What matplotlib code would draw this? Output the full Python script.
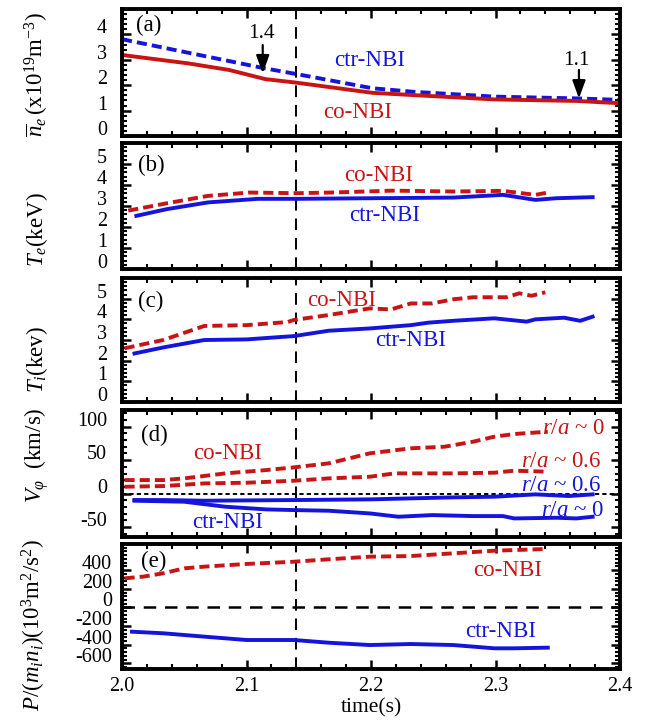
import matplotlib
matplotlib.use('Agg')
import matplotlib.pyplot as plt
from matplotlib.ticker import MultipleLocator
from matplotlib.transforms import ScaledTranslation

plt.rcParams['font.family'] = ['Liberation Serif', 'DejaVu Serif']
plt.rcParams['mathtext.fontset'] = 'custom'
plt.rcParams['mathtext.rm'] = 'Liberation Serif'
plt.rcParams['mathtext.it'] = 'Liberation Serif:italic'
plt.rcParams['mathtext.bf'] = 'Liberation Serif:bold'

RED = '#c81414'
BLUE = '#1414dc'

# ---------------- data ----------------
# (a) line-averaged density
a_ctr_t = [2.0, 2.115, 2.14, 2.201, 2.234, 2.299, 2.365, 2.4]
a_ctr_v = [3.81, 2.66, 2.44, 1.88, 1.74, 1.55, 1.48, 1.42]
a_co_t = [2.0, 2.053, 2.086, 2.115, 2.14, 2.201, 2.234, 2.299, 2.365, 2.4]
a_co_v = [3.19, 2.86, 2.60, 2.24, 2.10, 1.70, 1.61, 1.44, 1.38, 1.29]

# (b) Te
b_co_t = [2.005, 2.036, 2.069, 2.102, 2.140, 2.168, 2.217, 2.266, 2.306, 2.332, 2.342]
b_co_v = [2.78, 3.13, 3.48, 3.64, 3.61, 3.64, 3.73, 3.69, 3.72, 3.53, 3.64]
b_ctr_t = [2.0115, 2.036, 2.069, 2.109, 2.140, 2.201, 2.266, 2.306, 2.332, 2.349, 2.378]
b_ctr_v = [2.53, 2.85, 3.17, 3.34, 3.34, 3.37, 3.40, 3.53, 3.29, 3.37, 3.42]

# (c) Ti
c_co_t = [2.002, 2.033, 2.066, 2.100, 2.133, 2.138, 2.166, 2.199, 2.216, 2.232,
          2.249, 2.266, 2.282, 2.309, 2.319, 2.329, 2.340]
c_co_v = [2.60, 3.00, 3.68, 3.72, 3.87, 3.97, 4.21, 4.53, 4.48, 4.77,
          4.77, 4.97, 5.07, 5.07, 5.26, 5.14, 5.31]
c_ctr_t = [2.010, 2.033, 2.066, 2.100, 2.138, 2.166, 2.199, 2.232, 2.246, 2.266,
           2.299, 2.325, 2.332, 2.355, 2.368, 2.378]
c_ctr_v = [2.35, 2.64, 3.00, 3.03, 3.19, 3.45, 3.56, 3.72, 3.84, 3.93,
           4.05, 3.89, 4.00, 4.08, 3.93, 4.13]

# (d) toroidal rotation
d_co0_t = [2.002, 2.033, 2.050, 2.083, 2.116, 2.138, 2.166, 2.199, 2.216, 2.232,
           2.259, 2.282, 2.299, 2.315, 2.342]
d_co0_v = [20.2, 20.2, 22.7, 30.2, 35.2, 39.2, 45.2, 60.2, 64.1, 67.7,
           70.1, 77.6, 85.1, 89.1, 92.6]
d_co6_t = [2.002, 2.033, 2.066, 2.100, 2.138, 2.166, 2.199, 2.219, 2.232, 2.266,
           2.299, 2.315, 2.342]
d_co6_v = [10.2, 11.2, 15.2, 16.2, 19.2, 22.7, 25.2, 30.2, 30.2, 30.2,
           31.2, 34.2, 32.7]
d_ctr6_t = [2.010, 2.033, 2.066, 2.138, 2.199, 2.232, 2.266, 2.299, 2.332, 2.359, 2.378]
d_ctr6_v = [-9.7, -9.7, -10.7, -9.7, -8.7, -7.2, -5.7, -4.7, -1.2, -3.7, -1.2]
d_ctr0_t = [2.010, 2.050, 2.083, 2.116, 2.138, 2.166, 2.199, 2.222, 2.249, 2.282,
            2.306, 2.315, 2.349, 2.365, 2.378]
d_ctr0_v = [-10.7, -12.2, -19.7, -23.7, -24.7, -25.7, -29.7, -34.7, -32.2, -33.7,
            -33.7, -37.2, -36.2, -37.2, -34.7]

# (e) P/(m_i n_i)
e_co_t = [2.002, 2.017, 2.033, 2.050, 2.066, 2.100, 2.138, 2.166, 2.199, 2.232,
          2.266, 2.299, 2.340]
e_co_v = [312, 330, 366, 419, 437, 466, 490, 516, 544, 551, 580, 608, 626]
e_ctr_t = [2.008, 2.033, 2.066, 2.100, 2.138, 2.166, 2.199, 2.232, 2.266, 2.299,
           2.315, 2.342]
e_ctr_v = [-260, -277, -313, -349, -349, -378, -403, -392, -403, -438, -438, -431]

t_mark = 2.14

a_ticks = [0, 1, 2, 3, 4]
b_ticks = [0, 1, 2, 3, 4, 5]
c_ticks = [0, 1, 2, 3, 4, 5]
d_ticks = [-50, 0, 50, 100]
e_ticks = [-600, -400, -200, 0, 200, 400]
x_ticks = [2.0, 2.1, 2.2, 2.3, 2.4]

# ---------------- figure ----------------
fig = plt.figure(figsize=(6.46, 7.21), dpi=100)
L, W = 0.1889, 0.7709
rects = [(L, 0.8114, W, 0.1761),
         (L, 0.6269, W, 0.1748),
         (L, 0.4424, W, 0.1720),
         (L, 0.2552, W, 0.1761),
         (L, 0.0721, W, 0.1734)]
axes = [fig.add_axes(r) for r in rects]

lw = 2.8
dash = (2.6, 1.3)


def setup(ax, ylim, yticks, yminor, pad):
    ax.set_xlim(2.0, 2.4)
    ax.set_ylim(*ylim)
    ax.xaxis.set_major_locator(MultipleLocator(0.1))
    ax.xaxis.set_minor_locator(MultipleLocator(0.02))
    ax.set_yticks(yticks)
    ax.yaxis.set_minor_locator(MultipleLocator(yminor))
    ax.tick_params(which='both', direction='in', top=True, right=True,
                   labelleft=False)
    ax.tick_params(which='major', length=6.5, width=1.8)
    ax.tick_params(which='minor', length=3.5, width=1.5)
    for s in ax.spines.values():
        s.set_linewidth(2.8)
    off = ScaledTranslation(0, 0.055, fig.dpi_scale_trans)
    for v in yticks:
        ax.text(-pad, v, f"{v:g}", transform=ax.get_yaxis_transform() + off,
                ha='right', va='center', fontsize=14.5)
    ax.axvline(t_mark, color='k', lw=1.4, dashes=(6, 4))


setup(axes[0], (0, 5), a_ticks, 0.2, 0.03)
setup(axes[1], (0, 6), b_ticks, 0.2, 0.03)
setup(axes[2], (0, 6), c_ticks, 0.2, 0.03)
setup(axes[3], (-65, 125), d_ticks, 10, 0.03)
setup(axes[4], (-660, 680), e_ticks, 40, 0.02)

for ax in axes[:-1]:
    ax.tick_params(labelbottom=False)
axes[-1].set_xticks(x_ticks)
axes[-1].set_xticklabels([f"{x:.1f}" for x in x_ticks], fontsize=14.5)
axes[-1].tick_params(axis='x', pad=6)
axes[-1].set_xlabel('time(s)', fontsize=15.5, labelpad=1)

tk = dict(fontsize=16.5)

# (a)
ax = axes[0]
ax.plot(a_ctr_t, a_ctr_v, color=BLUE, lw=lw, dashes=dash)
ax.plot(a_co_t, a_co_v, color=RED, lw=lw)
ax.text(2.011, 4.37, '(a)', ha='left', va='center', **tk)
ax.text(2.199, 2.99, 'ctr-NBI', color=BLUE, ha='center', va='center', **tk)
ax.text(2.189, 0.92, 'co-NBI', color=RED, ha='center', va='center', **tk)
arr = dict(arrowstyle='-|>,head_length=0.6,head_width=0.22', lw=1.6, color='k',
           mutation_scale=18, shrinkA=0, shrinkB=0)
ax.annotate('', xy=(2.113, 2.47), xytext=(2.113, 3.58), arrowprops=arr)
ax.text(2.112, 4.04, '1.4', ha='center', va='center', fontsize=15.5)
ax.annotate('', xy=(2.367, 1.48), xytext=(2.367, 2.60), arrowprops=arr)
ax.text(2.365, 2.99, '1.1', ha='center', va='center', fontsize=15.5)

# (b)
ax = axes[1]
ax.plot(b_co_t, b_co_v, color=RED, lw=lw, dashes=dash)
ax.plot(b_ctr_t, b_ctr_v, color=BLUE, lw=lw)
ax.text(2.013, 4.95, '(b)', ha='left', va='center', **tk)
ax.text(2.206, 4.43, 'co-NBI', color=RED, ha='center', va='center', **tk)
ax.text(2.211, 2.53, 'ctr-NBI', color=BLUE, ha='center', va='center', **tk)

# (c)
ax = axes[2]
ax.plot(c_co_t, c_co_v, color=RED, lw=lw, dashes=dash)
ax.plot(c_ctr_t, c_ctr_v, color=BLUE, lw=lw)
ax.text(2.013, 4.85, '(c)', ha='left', va='center', **tk)
ax.text(2.176, 4.93, 'co-NBI', color=RED, ha='center', va='center', **tk)
ax.text(2.232, 3.0, 'ctr-NBI', color=BLUE, ha='center', va='center', **tk)

# (d)
ax = axes[3]
ax.axhline(0, color='k', lw=1.4, dashes=(2.2, 1.6))
ax.plot(d_co0_t, d_co0_v, color=RED, lw=lw, dashes=dash)
ax.plot(d_co6_t, d_co6_v, color=RED, lw=lw, dashes=dash)
ax.plot(d_ctr6_t, d_ctr6_v, color=BLUE, lw=lw)
ax.plot(d_ctr0_t, d_ctr0_v, color=BLUE, lw=lw)
ax.text(2.015, 87.6, '(d)', ha='left', va='center', **tk)
ax.text(2.085, 60.2, 'co-NBI', color=RED, ha='center', va='center', **tk)
ax.text(2.085, -43, 'ctr-NBI', color=BLUE, ha='center', va='center', **tk)
ax.text(2.388, 97.6, r'$r/a$ ~ 0', color=RED, ha='right', va='center', **tk)
ax.text(2.385, 47.6, r'$r/a$ ~ 0.6', color=RED, ha='right', va='center', **tk)
ax.text(2.385, 12.7, r'$r/a$ ~ 0.6', color=BLUE, ha='right', va='center', **tk)
ax.text(2.387, -24.7, r'$r/a$ ~ 0', color=BLUE, ha='right', va='center', **tk)

# (e)
ax = axes[4]
ax.axhline(0, color='k', lw=1.8, dashes=(5, 3.5))
ax.plot(e_co_t, e_co_v, color=RED, lw=lw, dashes=dash)
ax.plot(e_ctr_t, e_ctr_v, color=BLUE, lw=lw)
ax.text(2.015, 490, '(e)', ha='left', va='center', **tk)
ax.text(2.310, 401, 'co-NBI', color=RED, ha='center', va='center', **tk)
ax.text(2.304, -260, 'ctr-NBI', color=BLUE, ha='center', va='center', **tk)

# y labels
yl = dict(rotation=90, ha='center', va='center', fontsize=16.5)
fig.text(0.057, 0.897, r'$\overline{n}_e\,$(x10$^{19}$m$^{-3}$)', **yl)
fig.text(0.057, 0.682, r'$T_e$(keV)', **yl)
fig.text(0.057, 0.501, r'$T_i$(kev)', **yl)
fig.text(0.057, 0.368, r'$V_\varphi$  (km/s)', **yl)
fig.text(0.052, 0.133, r'$P/(m_in_i)$(10$^3$m$^2$/s$^2$)', **yl)

fig.savefig('out.png', dpi=100)
